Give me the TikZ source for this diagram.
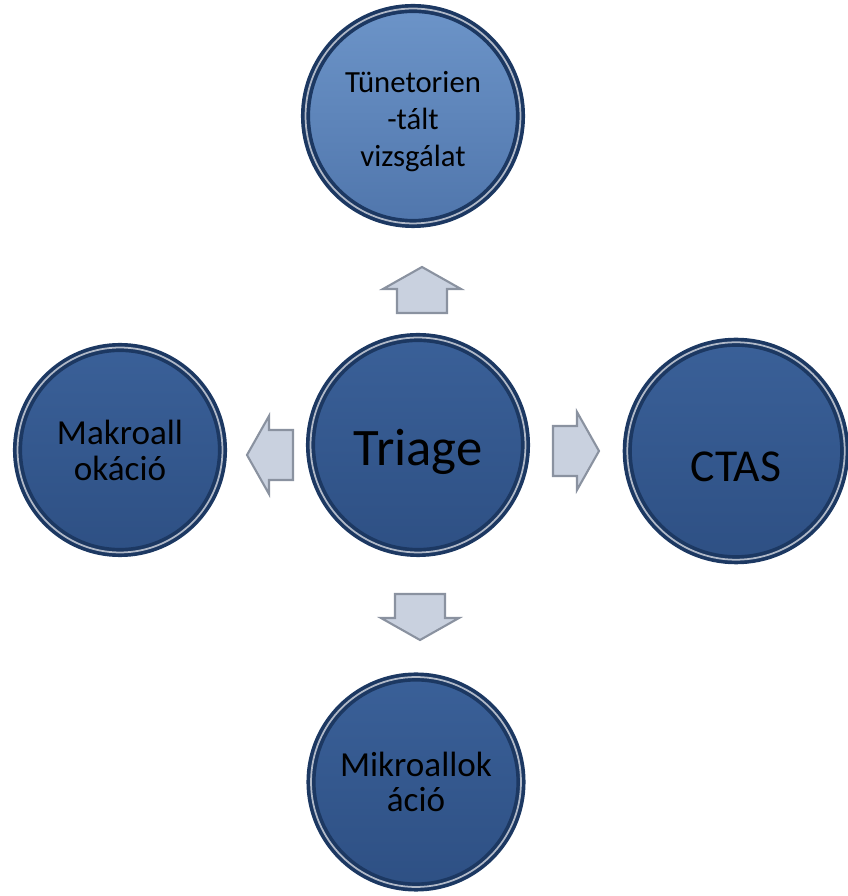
\documentclass[tikz,border=0pt]{standalone}
\usepackage{fontspec}
\setmainfont{Carlito}
\usetikzlibrary{shadows}

\definecolor{discblue}{RGB}{58,96,152}
\definecolor{discshade}{RGB}{46,80,132}
\definecolor{lighttop}{RGB}{108,148,200}
\definecolor{lightbottom}{RGB}{80,118,172}
\definecolor{rimblue}{RGB}{28,56,98}
\definecolor{arrowfill}{RGB}{201,209,223}
\definecolor{arrowedge}{RGB}{138,146,160}

\begin{document}
\begin{tikzpicture}[x=0.02cm,y=0.02cm,
  disc/.style={circle, draw=rimblue, line width=2.1pt, double=rimblue!35!white,
    double distance=1pt, inner sep=0pt, minimum size=#1,
    top color=discblue, bottom color=discshade,
    drop shadow={opacity=0.35, shadow xshift=1.5pt, shadow yshift=-1.5pt}},
  tag/.style={align=center, inner sep=0pt, text=black},
  blockarrow/.style={fill=arrowfill, draw=arrowedge, line width=1.2pt}]
  \useasboundingbox (0,0) rectangle (848,896);

  % the five circles
  \node[disc=4.3cm, label={[tag, font=\fontsize{30}{36}\selectfont, yshift=-4pt]center:Triage}]
    (triage) at (418,451) {};
  \node[disc=4.3cm, top color=lighttop, bottom color=lightbottom,
    label={[tag, font=\fontsize{17.5}{21}\selectfont, yshift=-3pt]center:{Tünetorien\\-tált\\vizsgálat}}]
    (symptom) at (413,780) {};
  \node[disc=4.1cm, label={[tag, font=\fontsize{20}{20.5}\selectfont]center:{Makroall\\okáció}}]
    (makro) at (120,446) {};
  \node[disc=4.35cm, label={[tag, font=\fontsize{26}{30}\selectfont, yshift=-9pt]center:CTAS}]
    (ctas) at (736,445) {};
  \node[disc=4.2cm, label={[tag, font=\fontsize{20}{20}\selectfont]center:{Mikroallok\\áció}}]
    (mikro) at (416,114) {};

  % block arrows pointing out of the middle
  \foreach \px/\py/\ang in {422/606/90, 270/441/180, 576/445/0, 420/279/270} {
    \draw[blockarrow, shift={(\px,\py)}, rotate=\ang]
      (-23,-25) -- (1,-25) -- (1,-39) -- (23,0) -- (1,39) -- (1,25) -- (-23,25) -- cycle;
  }
\end{tikzpicture}
\end{document}
